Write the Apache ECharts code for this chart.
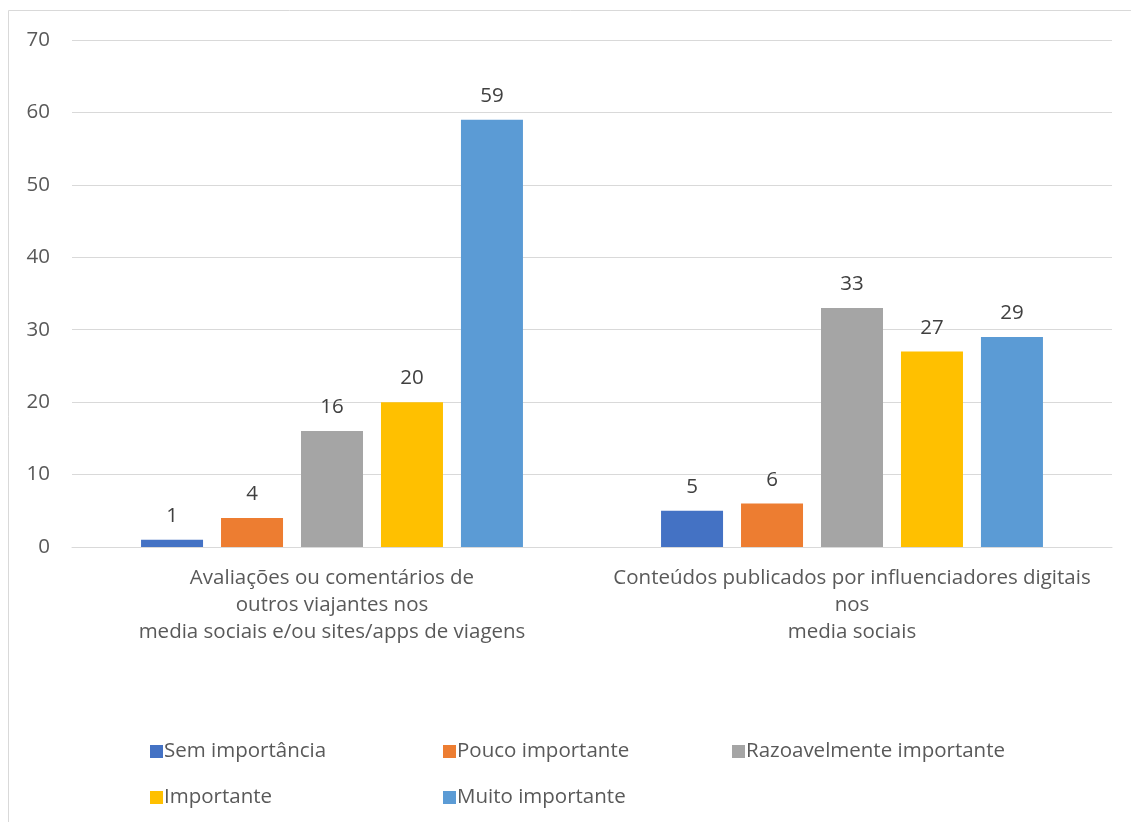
<!DOCTYPE html>
<html><head><meta charset="utf-8">
<script src="https://cdn.jsdelivr.net/npm/echarts@6/dist/echarts.min.js"></script>
<style>html,body{margin:0;padding:0;background:#fff}#c{width:1131px;height:822px}</style>
</head><body><div id="c"></div>
<script>
const categories = ["Avaliações ou comentários de\noutros viajantes nos\nmedia sociais e/ou sites/apps de viagens", "Conteúdos publicados por influenciadores digitais\nnos\nmedia sociais"];
const seriesNames = ["Sem importância", "Pouco importante", "Razoavelmente importante", "Importante", "Muito importante"];
const semImportancia = [1, 5];
const poucoImportante = [4, 6];
const razoavelmente = [16, 33];
const importante = [20, 27];
const muitoImportante = [59, 29];
const yTicks = [0, 10, 20, 30, 40, 50, 60, 70];

const colors = ["#4472C4", "#ED7D31", "#A5A5A5", "#FFC000", "#5B9BD5"];
const values = [semImportancia, poucoImportante, razoavelmente, importante, muitoImportante];
const font = "'Open Sans', Lato, sans-serif";
const legendPos = [[145, 736], [438, 736], [727, 736], [145, 782], [438, 782]];

const chart = echarts.init(document.getElementById('c'), null, {renderer: 'canvas'});
chart.setOption({
  animation: false,
  textStyle: {fontFamily: font},
  graphic: [{type: 'rect', shape: {x: 8.5, y: 10.5, width: 1300, height: 1000}, style: {fill: 'none', stroke: '#d9d9d9', lineWidth: 1}, silent: true, z: -1}],
  grid: {left: 72, right: 19, top: 40, bottom: 275, containLabel: false},
  xAxis: {
    type: 'category', data: categories,
    axisLine: {show: true, lineStyle: {color: '#d9d9d9', width: 1}},
    axisTick: {show: false},
    axisLabel: {color: '#595959', fontSize: 20.5, fontFamily: font, lineHeight: 27, margin: 18, interval: 0}
  },
  yAxis: {
    type: 'value', min: yTicks[0], max: yTicks[yTicks.length - 1], interval: 10,
    axisLine: {show: false}, axisTick: {show: false},
    splitLine: {lineStyle: {color: '#d9d9d9', width: 1}},
    axisLabel: {color: '#595959', fontSize: 20.5, fontFamily: font, margin: 22}
  },
  legend: seriesNames.map((n, i) => ({
    data: [n], left: legendPos[i][0], top: legendPos[i][1], itemWidth: 13, itemHeight: 13, itemGap: 5, icon: 'rect',
    textStyle: {color: '#595959', fontSize: 20.5, fontFamily: font, padding: [0, 0, 0, -4]}
  })),
  series: seriesNames.map((n, i) => ({
    name: n, type: 'bar', data: values[i], barWidth: 62, barGap: '29%',
    itemStyle: {color: colors[i]},
    label: {show: true, position: 'top', distance: 13, color: '#404040', fontSize: 20.5, fontFamily: font}
  }))
});
</script></body></html>
